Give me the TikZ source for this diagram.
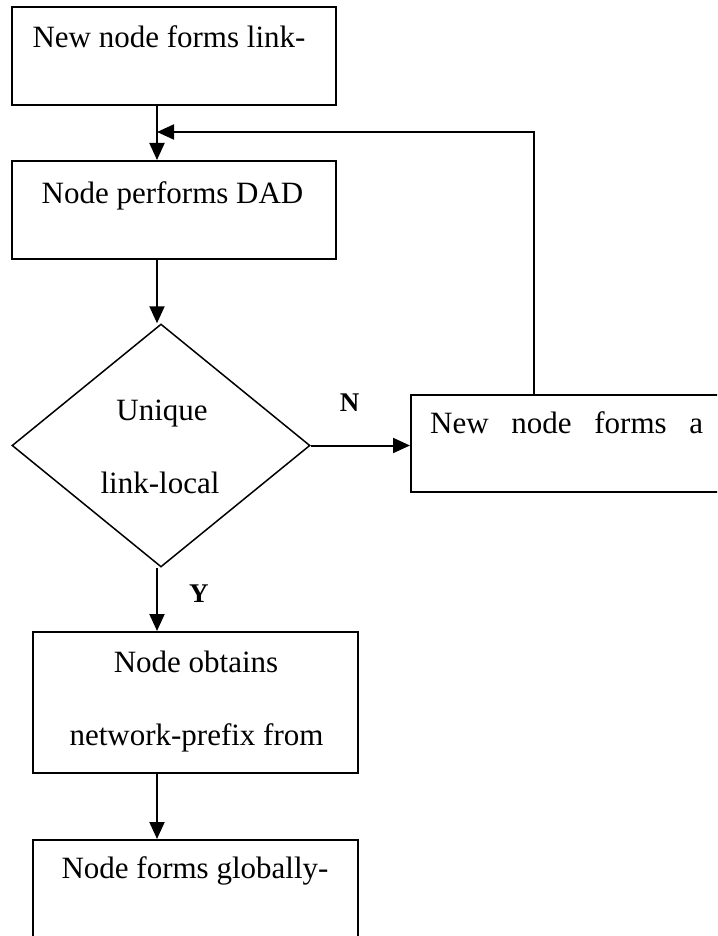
\documentclass[tikz,border=0pt]{standalone}
\usepackage{fontspec}
\setmainfont{Liberation Serif}
\usetikzlibrary{shapes.geometric,arrows.meta}
\begin{document}
\begin{tikzpicture}[x=1pt,y=-1pt,
  box/.style={draw, line width=2pt, rectangle, inner sep=0pt},
  dec/.style={draw, line width=1.5pt, diamond, inner sep=0pt, minimum width=298pt, minimum height=243pt},
  txt/.style={inner sep=0pt, anchor=base, font=\fontsize{31}{36}\selectfont},
  lbl/.style={inner sep=0pt, anchor=base, font=\fontsize{27}{32}\selectfont\bfseries},
  arr/.style={line width=2pt, -{Triangle[length=17pt,width=15pt]}}]
\useasboundingbox (0,0) rectangle (717,936);
\clip (0,0) rectangle (717,936);
\fill[white] (0,0) rectangle (717,936);
% boxes
\node[box, minimum width=324pt, minimum height=98pt] (b1) at (174,56) {};
\node[box, minimum width=324pt, minimum height=98pt] (b2) at (174,210) {};
\node[dec] (d) at (161,445.5) {};
\node[box, anchor=north west, minimum width=340pt, minimum height=97pt] (b3) at (410,394) {};
\node[box, minimum width=325pt, minimum height=141pt] (b4) at (195.5,702.5) {};
\node[box, anchor=north, minimum width=325pt, minimum height=140pt] (b5) at (195.5,839) {};
% texts
\node[txt] (t1) at (169,48) {New node forms link-};
\node[txt] (t2) at (172.5,203) {Node performs DAD};
\node[txt] (t3a) at (162,420) {Unique};
\node[txt] (t3b) at (160,493) {link-local};
\node[txt, anchor=base west] (t4) at (430,433) {\hbox to 273pt{New\hfill node\hfill forms\hfill a}};
\node[txt] (t5a) at (196,672) {Node obtains};
\node[txt] (t5b) at (196.5,745) {network-prefix from};
\node[txt] (t6) at (195,878) {Node forms globally-};
\node[lbl] (lN) at (349.7,411) {N};
\node[lbl] (lY) at (198.8,602) {Y};
% connectors
\coordinate (c1) at (157,0);
\coordinate (fb) at (534,132);
\draw[arr] (b1.south -| c1) -- (b2.north -| c1);
\draw[arr] (b2.south -| c1) -- (d.north -| c1);
\draw[arr] (d.east) -- (d.east -| b3.west);
\draw[arr] (b3.north -| fb) -- (fb) -- (fb -| c1);
\draw[arr] (d.south -| c1) -- (b4.north -| c1);
\draw[arr] (b4.south -| c1) -- (b5.north -| c1);
\end{tikzpicture}
\end{document}
